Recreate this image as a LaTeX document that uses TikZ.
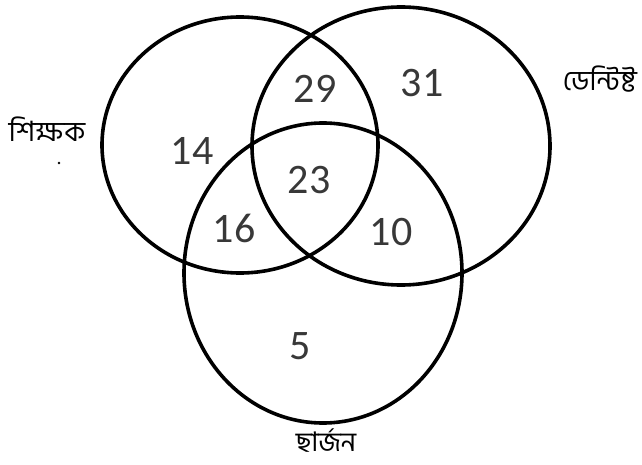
\documentclass[tikz,border=0pt]{standalone}
\usepackage{fontspec}
\usepackage{tikz}
\newfontfamily\banglafont[Script=Bengali]{Hind Siliguri}
\newfontfamily\digitfont{Carlito}

\begin{document}
\begin{tikzpicture}[x=1pt, y=-1pt,
  ring/.style={draw=black, line width=3.6pt},
  count/.style={font=\digitfont\fontsize{42}{42}\selectfont, text=black!78, inner sep=0pt},
  setname/.style={font=\banglafont\fontsize{28}{32}\selectfont, text=black, inner sep=0pt, anchor=base},
]
\useasboundingbox (0,0) rectangle (642,465);

% the three sets
\draw[ring] (240,145) ellipse [x radius=138, y radius=128];
\draw[ring] (401,146) ellipse [x radius=149, y radius=139];
\draw[ring] (323,273) ellipse [x radius=139, y radius=150];

% set names
\node[setname] (teacher) at (47,142)  {শিক্ষক};
\node[setname] (dentist) at (600,91)  {ডেন্টিষ্ট};
\node[setname, font=\banglafont\fontsize{27}{30}\selectfont] (surgeon) at (326,451) {ছার্জন};
\fill (59,163) circle [radius=1.3];

% region counts
\foreach \n/\pos/\txt in {
  nA/{(192,151)}/14,
  nAB/{(315,89)}/29,
  nB/{(422,83)}/31,
  nABC/{(309,180)}/23,
  nAC/{(234,228)}/16,
  nBC/{(391,232)}/10,
  nC/{(300,346)}/5
} { \node[count] (\n) at \pos {\txt}; }

\end{tikzpicture}
\end{document}
